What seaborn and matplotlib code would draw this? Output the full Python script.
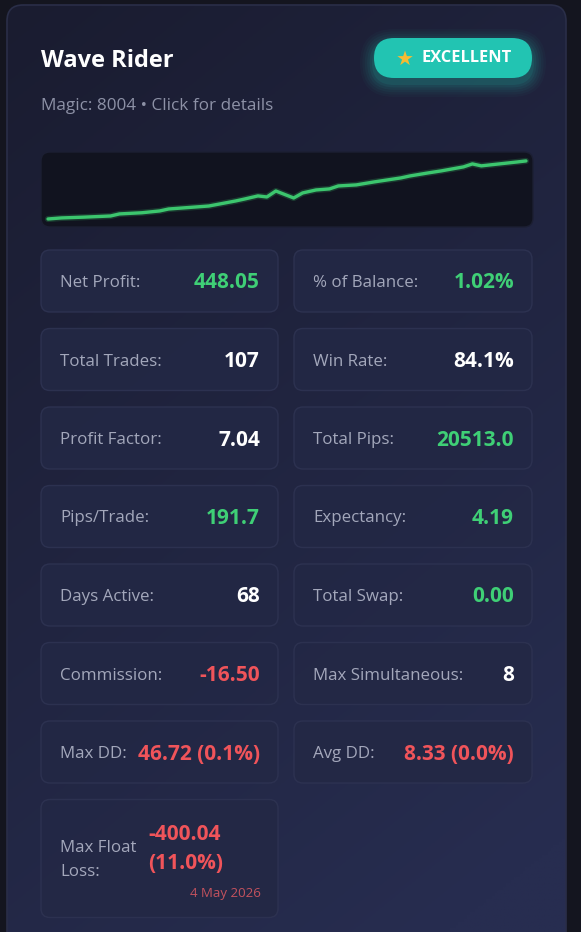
import matplotlib.pyplot as plt
import matplotlib.patches as mpatches
import seaborn as sns
import numpy as np
import pandas as pd

sns.set_theme(style='dark')
plt.rcParams['font.family'] = ['Open Sans', 'DejaVu Sans']

# card header
title = 'Wave Rider'
subtitle = 'Magic: 8004 \u2022 Click for details'
badge = 'EXCELLENT'

# equity curve
trade_no = [0, 3, 8, 14, 16, 21, 25, 27, 36, 42, 44, 47, 49, 51, 55, 57, 60, 63,
            65, 69, 73, 79, 81, 85, 88, 93, 95, 97, 101, 105, 107]
equity = [0, 8, 14, 23, 39, 48, 62, 77, 100, 139, 154, 178, 170, 216, 162, 201, 224, 232,
          255, 263, 286, 317, 332, 355, 371, 402, 425, 410, 425, 440, 448]

# stat tiles: left column / right column
left_labels = ['Net Profit:', 'Total Trades:', 'Profit Factor:', 'Pips/Trade:',
               'Days Active:', 'Commission:', 'Max DD:']
left_values = ['448.05', '107', '7.04', '191.7', '68', '-16.50', '46.72 (0.1%)']
left_kind = ['pos', 'plain', 'plain', 'pos', 'plain', 'neg', 'neg']

right_labels = ['% of Balance:', 'Win Rate:', 'Total Pips:', 'Expectancy:',
                'Total Swap:', 'Max Simultaneous:', 'Avg DD:']
right_values = ['1.02%', '84.1%', '20513.0', '4.19', '0.00', '8', '8.33 (0.0%)']
right_kind = ['pos', 'plain', 'pos', 'pos', 'pos', 'plain', 'neg']

float_label = 'Max Float\nLoss:'
float_value = '-400.04\n(11.0%)'
float_date = '4 May 2026'

colors = {'pos': '#3fcf76', 'plain': '#ffffff', 'neg': '#f0545a'}

W, H = 581, 932
fig = plt.figure(figsize=(W / 100, H / 100), dpi=100)
fig.patch.set_facecolor('#14151f')
ax = fig.add_axes([0, 0, 1, 1])
ax.set_xlim(0, W)
ax.set_ylim(H, 0)
ax.axis('off')

# card with diagonal gradient
card = mpatches.FancyBboxPatch((7, 5), 559, 960, boxstyle='round,pad=0,rounding_size=16',
                               facecolor='none', edgecolor='#2a2e48', lw=1.2, zorder=2)
ax.add_patch(card)
gx, gy = np.meshgrid(np.linspace(0, 1, 200), np.linspace(0, 1, 300))
t = np.clip(0.35 * gx + 0.75 * gy, 0, 1)
c0 = np.array([0x1a, 0x1c, 0x30]) / 255
c1 = np.array([0x27, 0x2d, 0x50]) / 255
img = c0 + (c1 - c0) * t[..., None]
im = ax.imshow(img, extent=(7, 566, 965, 5), zorder=1, aspect='auto')
im.set_clip_path(card)

# header
ax.text(41, 61, title, fontsize=17, fontweight='bold', color='white', va='center', zorder=5)
ax.text(41, 106, subtitle, fontsize=12.3, color='#8d91a6', va='center', zorder=5)

# badge with glow
for i, a in enumerate([0.03, 0.04, 0.05, 0.06, 0.08, 0.1]):
    g = 14 - 2.4 * i
    ax.add_patch(mpatches.FancyBboxPatch((374 - g, 38 - g + 5), 158 + 2 * g, 40 + 2 * g,
                                         boxstyle=f'round,pad=0,rounding_size={20 + g}',
                                         facecolor='#22c7b3', edgecolor='none', alpha=a, zorder=3))
ax.add_patch(mpatches.FancyBboxPatch((374, 38), 158, 40, boxstyle='round,pad=0,rounding_size=20',
                                     facecolor='#22c4b2', edgecolor='none', zorder=4))
ax.text(405, 59, '\u2605', fontsize=14.5, color='#f6bb32', ha='center', va='center',
        family='DejaVu Sans', zorder=5)
ax.text(466.5, 58.5, badge, fontsize=11.8, fontweight='bold', color='white', ha='center',
        va='center', zorder=5)

# sparkline box
ax.add_patch(mpatches.FancyBboxPatch((41, 152), 492, 75, boxstyle='round,pad=0,rounding_size=9',
                                     facecolor='#11131f', edgecolor='#1c1f33', lw=1, zorder=3))
sp = fig.add_axes([41 / W, 1 - 227 / H, 492 / W, 75 / H])
sp.patch.set_alpha(0)
df = pd.DataFrame({'trade': trade_no, 'equity': equity})
sns.lineplot(data=df, x='trade', y='equity', ax=sp, color='#2f8f55', lw=4.5, alpha=0.3)
sns.lineplot(data=df, x='trade', y='equity', ax=sp, color='#3cc66e', lw=2.4)
sp.set_xlim(-1.57, 108.57)
sp.set_ylim(-62, 517)
sp.axis('off')


def tile(x, y, w, h):
    ax.add_patch(mpatches.FancyBboxPatch((x, y), w, h, boxstyle='round,pad=0,rounding_size=9',
                                         facecolor='#232845', edgecolor='#2e3352', lw=1,
                                         alpha=0.9, zorder=3))


row_top = [250, 328.5, 407, 485.5, 564, 642.5, 721]
for i, top in enumerate(row_top):
    cy = top + 33
    tile(41, top, 237, 62)
    ax.text(60, cy, left_labels[i], fontsize=12.2, color='#a3a7bb', va='center', zorder=5)
    ax.text(260, cy, left_values[i], fontsize=15, fontweight='bold',
            color=colors[left_kind[i]], ha='right', va='center', zorder=5)
    tile(294, top, 238, 62)
    ax.text(313, cy, right_labels[i], fontsize=12.2, color='#a3a7bb', va='center', zorder=5)
    ax.text(514, cy, right_values[i], fontsize=15, fontweight='bold',
            color=colors[right_kind[i]], ha='right', va='center', zorder=5)

# max float loss tile
tile(41, 799.5, 237, 118)
ax.text(60, 860, float_label, fontsize=12.2, color='#a3a7bb', va='center',
        linespacing=1.75, zorder=5)
ax.text(148, 849, float_value, fontsize=15, fontweight='bold', color=colors['neg'],
        va='center', linespacing=1.45, zorder=5)
ax.text(261, 893, float_date, fontsize=9.5, color='#c4525e', ha='right', va='center', zorder=5)

fig.savefig('out.png', dpi=100, facecolor=fig.get_facecolor())
